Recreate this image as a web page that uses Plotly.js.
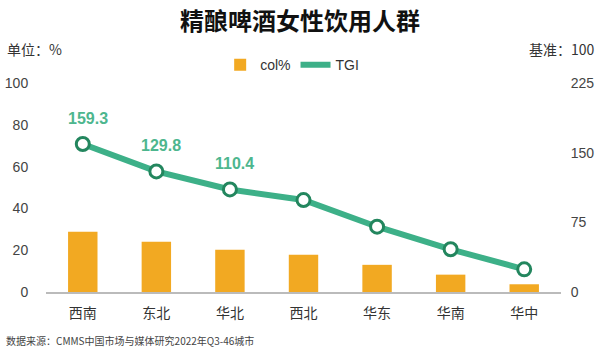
<!DOCTYPE html>
<html>
<head>
<meta charset="utf-8">
<script src="https://cdn.plot.ly/plotly-3.0.1.min.js"></script>
<style>
html,body{margin:0;padding:0;background:#fff;}
#chart{width:600px;height:352px;}
</style>
</head>
<body>
<div id="chart"></div>
<script>
const categories = ['西南','东北','华北','西北','华东','华南','华中'];
const colPct = [28.8, 24.0, 20.2, 17.8, 13.0, 8.3, 3.7];
const tgi = [159.3, 129.8, 110.4, 99.0, 70.3, 46.0, 24.4];
const tgiLabels = ['159.3','129.8','110.4','','','',''];
const leftTicks = [0,20,40,60,80,100];
const rightTicks = [0,75,150,225];

const orange = '#F2A922';
const green = '#3DB088';
const greenDark = '#23865E';
const labelGreen = '#4DB68E';
const font = '"Noto Sans CJK SC", "Noto Sans", sans-serif';

const traces = [
  {
    type: 'bar', name: 'col%', x: categories, y: colPct,
    marker: {color: orange}, width: 0.4, yaxis: 'y', showlegend: true
  },
  {
    type: 'scatter', mode: 'lines+markers', name: 'TGI', x: categories, y: tgi,
    yaxis: 'y2', showlegend: false,
    line: {color: green, width: 6},
    marker: {size: 13, color: '#ffffff', line: {color: greenDark, width: 3}}
  },
  {
    type: 'scatter', mode: 'lines', name: 'TGI', x: [categories[0]], y: [null],
    yaxis: 'y2', showlegend: true, line: {color: green, width: 6}
  }
];

const annotations = [];
categories.forEach((c, i) => {
  if (tgiLabels[i]) {
    annotations.push({
      x: c, y: tgi[i], xref: 'x', yref: 'y2', text: '<b>' + tgiLabels[i] + '</b>',
      showarrow: false, yshift: 26, xshift: 5,
      font: {family: 'Arial, "Liberation Sans", sans-serif', size: 16, color: labelGreen}
    });
  }
});
annotations.push({
  xref: 'paper', yref: 'paper', x: -0.08, y: 1.165, xanchor: 'left', yanchor: 'middle',
  text: '单位：%', showarrow: false, font: {family: font, size: 14, color: '#333'}
});
annotations.push({
  xref: 'paper', yref: 'paper', x: 1.07, y: 1.165, xanchor: 'right', yanchor: 'middle',
  text: '基准：100', showarrow: false, font: {family: font, size: 14, color: '#333'}
});
annotations.push({
  xref: 'paper', yref: 'paper', x: -0.081, y: -0.23, xanchor: 'left', yanchor: 'middle',
  text: '数据来源：CMMS中国市场与媒体研究2022年Q3-46城市', showarrow: false,
  font: {family: font, size: 10, color: '#444'}
});

const layout = {
  width: 600, height: 352,
  margin: {l: 46, r: 39, t: 83, b: 60},
  paper_bgcolor: '#fff', plot_bgcolor: '#fff',
  title: {
    text: '<b>精酿啤酒女性饮用人群</b>',
    x: 0.5, xanchor: 'center', y: 0.938, yanchor: 'middle',
    font: {family: font, size: 24, color: '#111'}
  },
  showlegend: true,
  legend: {
    orientation: 'h', x: 0.478, xanchor: 'center', y: 1.085, yanchor: 'middle',
    font: {family: 'Arial, "Liberation Sans", sans-serif', size: 14, color: '#333'},
    itemwidth: 30, tracegroupgap: 0, bgcolor: 'rgba(0,0,0,0)'
  },
  bargap: 0.6,
  xaxis: {
    type: 'category', showgrid: false, zeroline: false,
    showline: true, linecolor: '#bbbbbb', linewidth: 1.5,
    ticks: 'outside', ticklen: 8, tickcolor: 'rgba(0,0,0,0)',
    tickfont: {family: font, size: 14, color: '#333'}
  },
  yaxis: {
    range: [0, 100], tickvals: leftTicks, showgrid: false, zeroline: false,
    showline: false, ticks: 'outside', ticklen: 14, tickcolor: 'rgba(0,0,0,0)',
    tickfont: {family: 'Arial, "Liberation Sans", sans-serif', size: 14, color: '#444'}
  },
  yaxis2: {
    overlaying: 'y', side: 'right', range: [0, 225], tickvals: rightTicks,
    showgrid: false, zeroline: false, showline: false,
    ticks: 'outside', ticklen: 6, tickcolor: 'rgba(0,0,0,0)',
    tickfont: {family: 'Arial, "Liberation Sans", sans-serif', size: 14, color: '#444'}
  },
  annotations: annotations
};

Plotly.newPlot('chart', traces, layout, {displayModeBar: false, staticPlot: true});
</script>
</body>
</html>
